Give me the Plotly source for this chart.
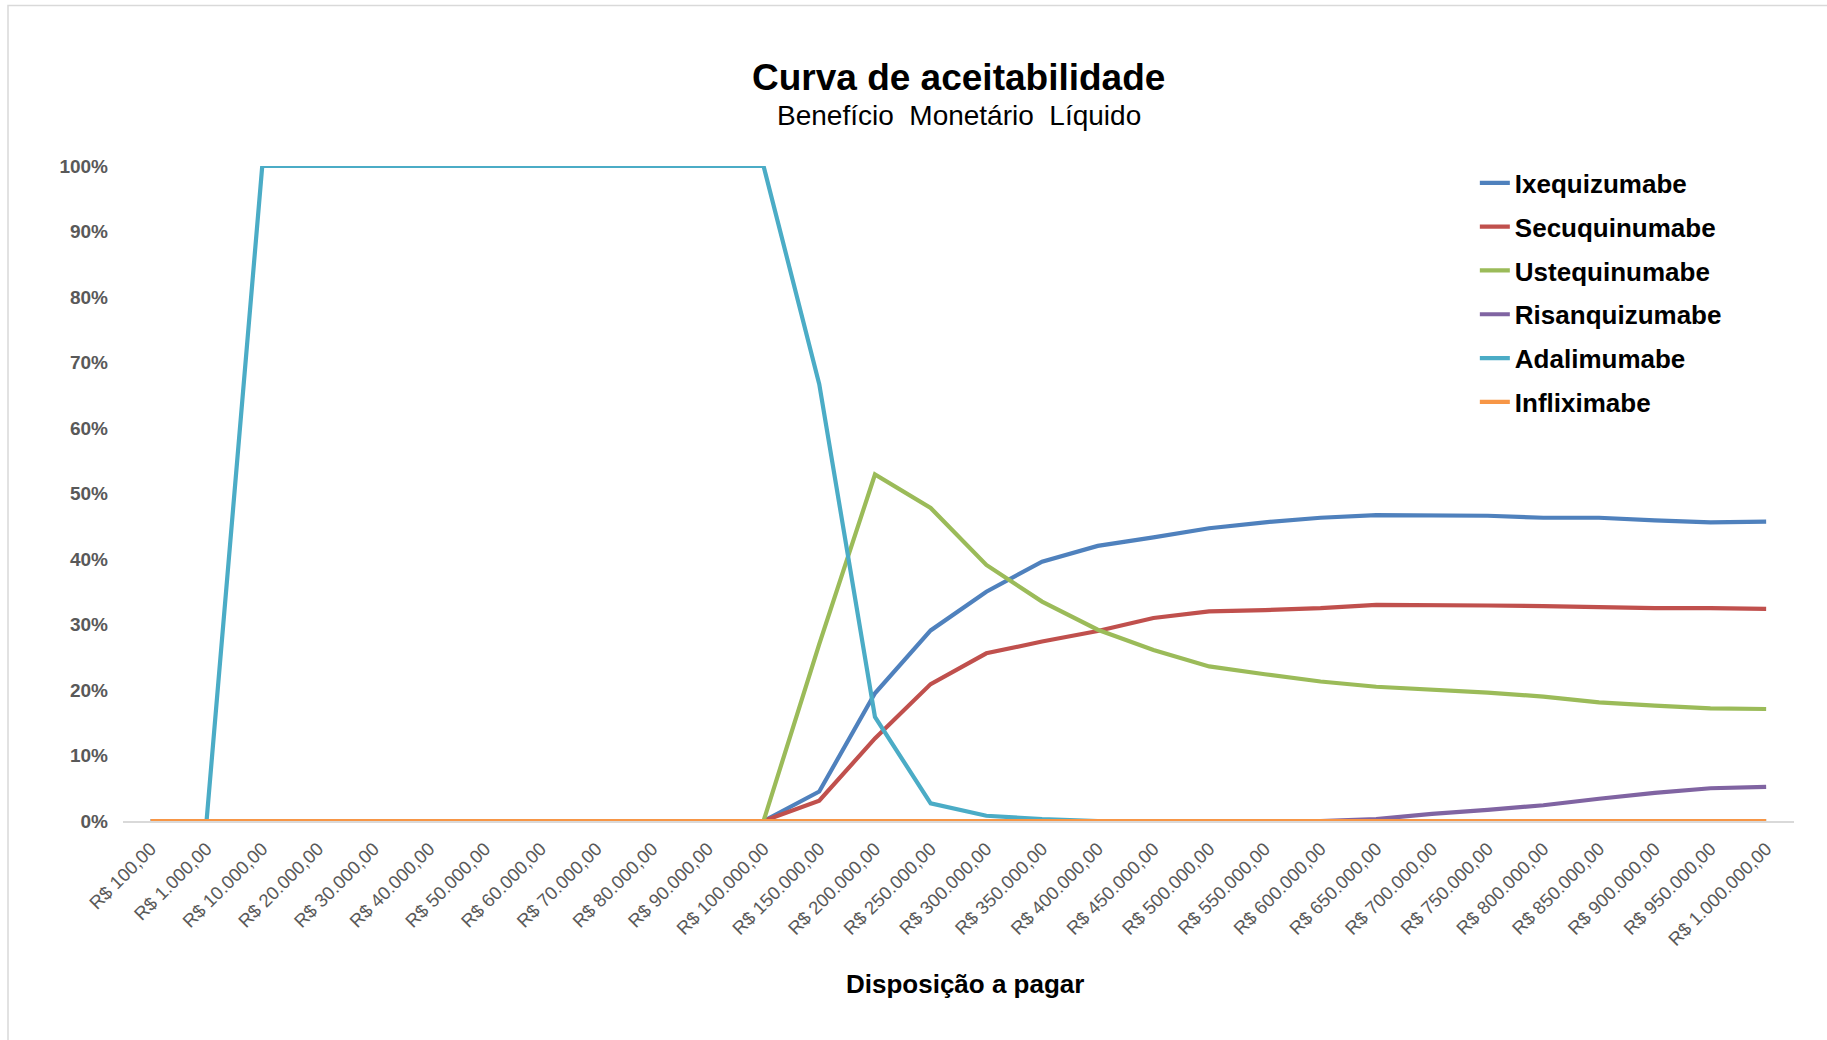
import plotly.graph_objects as go

categories = [
    "R$ 100,00", "R$ 1.000,00", "R$ 10.000,00", "R$ 20.000,00", "R$ 30.000,00",
    "R$ 40.000,00", "R$ 50.000,00", "R$ 60.000,00", "R$ 70.000,00", "R$ 80.000,00",
    "R$ 90.000,00", "R$ 100.000,00", "R$ 150.000,00", "R$ 200.000,00", "R$ 250.000,00",
    "R$ 300.000,00", "R$ 350.000,00", "R$ 400.000,00", "R$ 450.000,00", "R$ 500.000,00",
    "R$ 550.000,00", "R$ 600.000,00", "R$ 650.000,00", "R$ 700.000,00", "R$ 750.000,00",
    "R$ 800.000,00", "R$ 850.000,00", "R$ 900.000,00", "R$ 950.000,00", "R$ 1.000.000,00",
]

ixequizumabe = [0, 0, 0, 0, 0, 0, 0, 0, 0, 0, 0, 0,
                0.045, 0.195, 0.291, 0.350, 0.396, 0.420, 0.433, 0.447,
                0.456, 0.463, 0.467, 0.466, 0.466, 0.463, 0.463, 0.459, 0.456, 0.457]
secuquinumabe = [0, 0, 0, 0, 0, 0, 0, 0, 0, 0, 0, 0,
                 0.031, 0.126, 0.209, 0.256, 0.274, 0.290, 0.310, 0.320,
                 0.322, 0.325, 0.330, 0.330, 0.329, 0.328, 0.326, 0.325, 0.325, 0.324]
ustequinumabe = [0, 0, 0, 0, 0, 0, 0, 0, 0, 0, 0, 0,
                 0.270, 0.529, 0.478, 0.391, 0.335, 0.292, 0.261, 0.236,
                 0.224, 0.213, 0.205, 0.201, 0.196, 0.190, 0.181, 0.176, 0.172, 0.171]
risanquizumabe = [0, 0, 0, 0, 0, 0, 0, 0, 0, 0, 0, 0,
                  0, 0, 0, 0, 0, 0, 0, 0,
                  0, 0, 0.003, 0.011, 0.017, 0.024, 0.034, 0.043, 0.050, 0.052]
adalimumabe = [0, 0, 1, 1, 1, 1, 1, 1, 1, 1, 1, 1,
               0.667, 0.159, 0.027, 0.008, 0.003, 0, 0, 0,
               0, 0, 0, 0, 0, 0, 0, 0, 0, 0]
infliximabe = [0] * 30

series_names = ["Ixequizumabe", "Secuquinumabe", "Ustequinumabe",
                "Risanquizumabe", "Adalimumabe", "Infliximabe"]
series_values = [ixequizumabe, secuquinumabe, ustequinumabe,
                 risanquizumabe, adalimumabe, infliximabe]
series_colors = ["#4F81BD", "#C0504D", "#9BBB59", "#8064A2", "#4BACC6", "#F79646"]

FONT = "Liberation Sans, Arial, sans-serif"

fig = go.Figure()
for name, vals, col in zip(series_names, series_values, series_colors):
    fig.add_trace(go.Scatter(
        x=categories, y=vals, name=name, mode="lines",
        line=dict(color=col, width=4.2),
        legendgroup=name, cliponaxis=False,
    ))

W, H = 1827, 1040
L, R, T, B = 123, 33, 166, 219

fig.update_layout(
    width=W, height=H,
    margin=dict(l=L, r=R, t=T, b=B, pad=0),
    paper_bgcolor="white", plot_bgcolor="white",
    font=dict(family=FONT, color="#000000"),
    showlegend=True,
    legend=dict(
        x=0.809, y=1.01, xanchor="left", yanchor="top",
        font=dict(family=FONT, size=26, color="#000000", weight="bold"),
        tracegroupgap=7, bgcolor="rgba(0,0,0,0)",
    ),
    xaxis=dict(
        type="category", range=[-0.5, 29.5],
        showgrid=False, zeroline=False,
        showline=True, linecolor="#D9D9D9", linewidth=1.5,
        ticks="", tickangle=-45,
        tickfont=dict(family=FONT, size=18.5, color="#595959"),
        ticklabelstandoff=8,
    ),
    yaxis=dict(
        range=[0, 1], tickformat=".0%", dtick=0.1, tick0=0,
        showgrid=False, zeroline=False, showline=False, ticks="",
        tickfont=dict(family=FONT, size=19, color="#595959", weight="bold"),
        ticklabelstandoff=14,
    ),
    annotations=[
        dict(text="<b>Curva de aceitabilidade</b>", xref="paper", yref="paper",
             x=0.5, y=(821 - 78) / 654.5, xanchor="center", yanchor="middle",
             showarrow=False, font=dict(family=FONT, size=37, color="#000000")),
        dict(text="Benefício\u00a0 Monetário\u00a0 Líquido", xref="paper", yref="paper",
             x=0.5, y=(821 - 116.5) / 654.5, xanchor="center", yanchor="middle",
             showarrow=False, font=dict(family=FONT, size=28, color="#000000")),
        dict(text="<b>Disposição a pagar</b>", xref="paper", yref="paper",
             x=(965 - 123) / 1671, y=(821 - 984) / 654.5, xanchor="center", yanchor="middle",
             showarrow=False, font=dict(family=FONT, size=26, color="#000000")),
    ],
    shapes=[
        dict(type="rect", xref="paper", yref="paper",
             x0=(8 - 123) / 1671, x1=1.2, y0=-0.6, y1=(821 - 6) / 654.5,
             line=dict(color="#D9D9D9", width=1.5), fillcolor="rgba(0,0,0,0)", layer="below"),
    ],
)

fig.write_html("out.html")
